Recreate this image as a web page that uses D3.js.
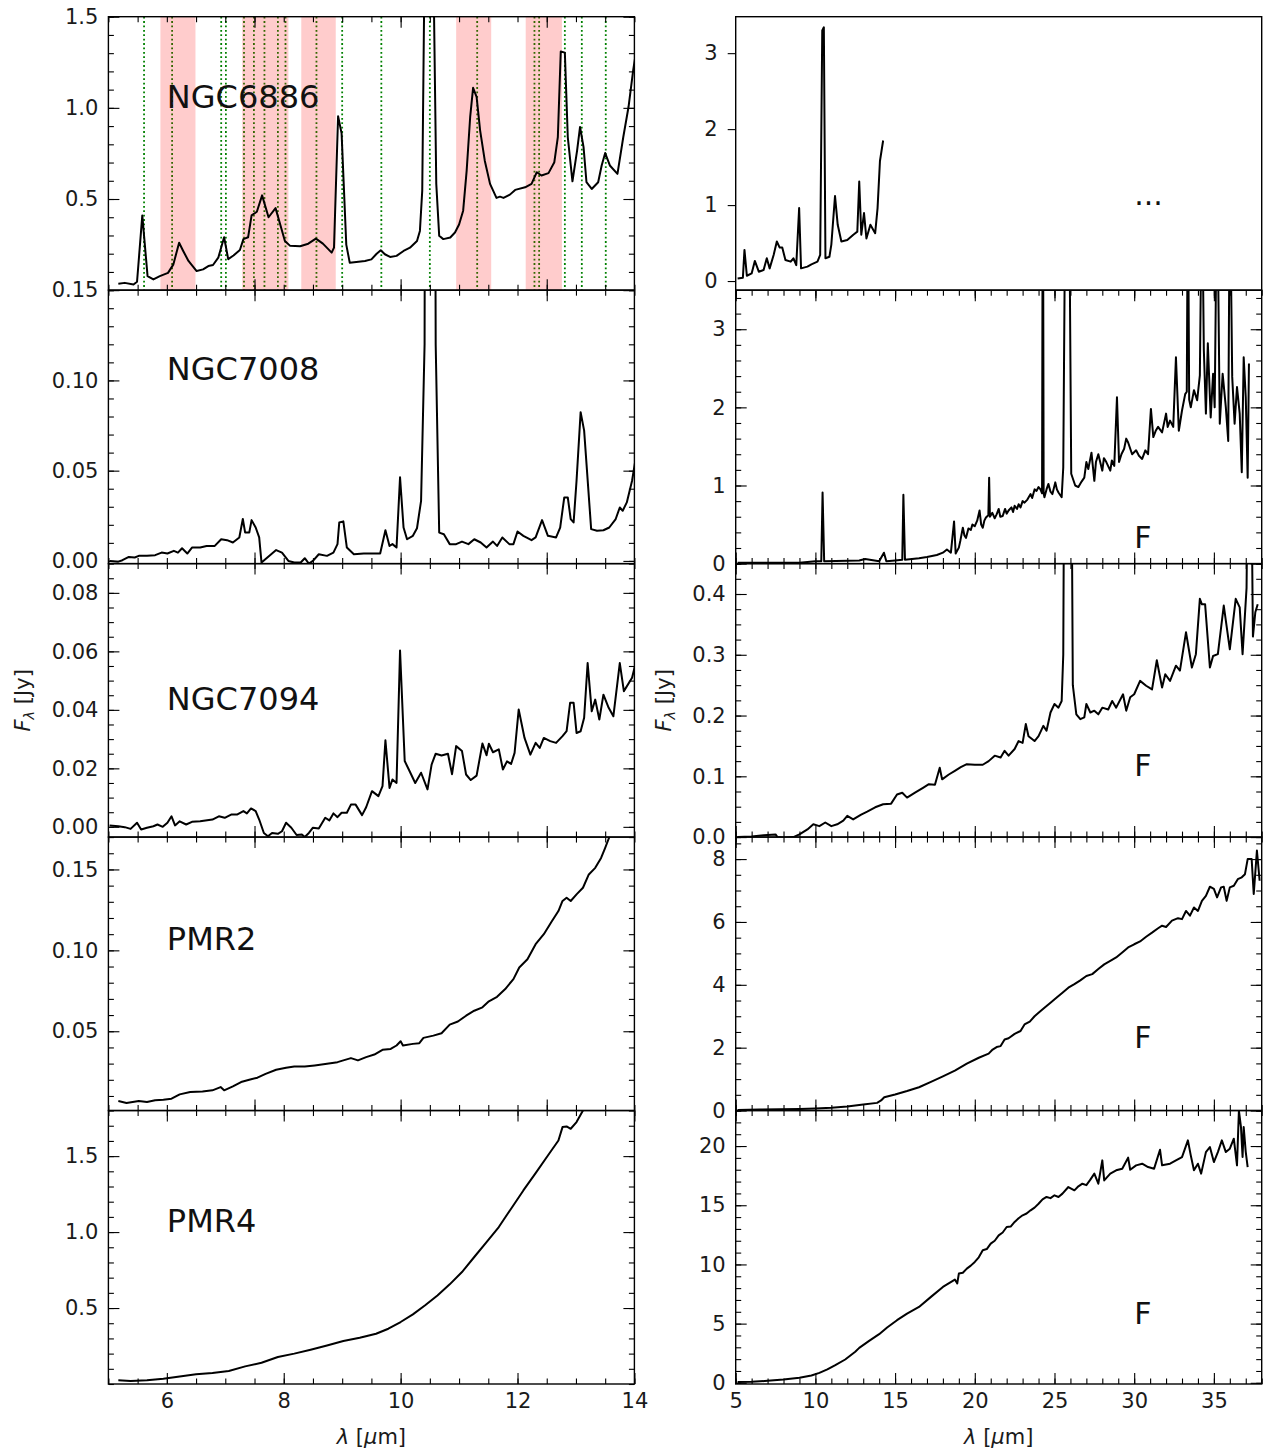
<!DOCTYPE html>
<html>
<head>
<meta charset="utf-8">
<script src="https://cdn.jsdelivr.net/npm/d3@7"></script>
<style>
  body { margin: 0; background: #fff; }
  svg text { font-family: "DejaVu Sans", sans-serif; }
</style>
</head>
<body>
<div id="chart"></div>
<script>
// Spectra: [wavelength (um), flux (Jy)]
const ngc6886_sl = [[5.17,0.035],[5.28,0.040],[5.43,0.031],[5.49,0.046],[5.58,0.41],[5.67,0.077],[5.77,0.059],[5.88,0.077],[6.02,0.095],[6.11,0.14],[6.21,0.26],[6.28,0.215],[6.37,0.16],[6.51,0.105],[6.62,0.114],[6.71,0.132],[6.79,0.138],[6.88,0.178],[6.98,0.29],[7.05,0.17],[7.14,0.19],[7.25,0.22],[7.31,0.28],[7.39,0.29],[7.45,0.41],[7.54,0.43],[7.63,0.52],[7.74,0.40],[7.86,0.45],[7.94,0.36],[8.02,0.27],[8.11,0.243],[8.28,0.241],[8.42,0.255],[8.55,0.283],[8.67,0.255],[8.82,0.206],[8.86,0.233],[8.93,0.954],[8.99,0.86],[9.07,0.25],[9.13,0.15],[9.39,0.16],[9.50,0.169],[9.59,0.2],[9.66,0.219],[9.73,0.197],[9.82,0.182],[9.93,0.188],[10.05,0.215],[10.16,0.233],[10.28,0.27],[10.33,0.325],[10.37,0.546],[10.41,1.8],[10.46,3.3],[10.52,3.34],[10.56,1.8],[10.61,0.583],[10.66,0.298],[10.73,0.28],[10.85,0.289],[10.93,0.316],[11.00,0.36],[11.07,0.436],[11.13,0.656],[11.19,0.95],[11.24,1.11],[11.30,1.06],[11.36,0.877],[11.44,0.71],[11.53,0.583],[11.64,0.506],[11.70,0.513],[11.76,0.506],[11.87,0.524],[11.96,0.55],[12.13,0.564],[12.24,0.583],[12.33,0.647],[12.41,0.629],[12.53,0.642],[12.63,0.702],[12.69,0.84],[12.74,1.309],[12.81,1.303],[12.86,0.84],[12.94,0.597],[13.02,0.767],[13.07,0.895],[13.13,0.785],[13.18,0.592],[13.27,0.555],[13.38,0.592],[13.44,0.684],[13.50,0.752],[13.58,0.684],[13.71,0.638],[13.81,0.84],[13.90,1.006],[13.98,1.208],[14.05,1.35]];

const ngc6886_ll = [[5.12,0.034],[5.45,0.044],[5.55,0.41],[5.70,0.07],[6.0,0.10],[6.2,0.265],[6.45,0.123],[6.75,0.146],[6.95,0.3],[7.13,0.167],[7.38,0.344],[7.58,0.52],[7.76,0.44],[7.92,0.44],[8.12,0.278],[8.45,0.255],[8.62,0.3],[8.80,0.21],[8.98,0.96],[9.10,0.167],[9.5,0.19],[9.75,0.22],[10.13,0.255],[10.30,0.344],[10.43,3.30],[10.53,3.34],[10.63,0.30],[10.88,0.32],[11.0,0.48],[11.23,1.12],[11.40,0.74],[11.63,0.52],[12.0,0.54],[12.38,0.61],[12.63,0.65],[12.75,1.31],[12.88,0.61],[13.05,0.895],[13.20,0.56],[13.45,0.74],[13.75,0.63],[13.9,0.96],[14.05,1.58],[14.25,1.85]];

const ngc7008_sl = [[5.02,0.0],[5.17,-0.0004],[5.24,0.0004],[5.35,0.0022],[5.45,0.0019],[5.52,0.0028],[5.66,0.0028],[5.80,0.0032],[5.91,0.0046],[6.01,0.0041],[6.12,0.0056],[6.19,0.0046],[6.26,0.007],[6.35,0.0041],[6.43,0.0074],[6.57,0.0074],[6.68,0.0083],[6.82,0.0083],[6.93,0.012],[7.03,0.0115],[7.13,0.0102],[7.24,0.013],[7.30,0.0232],[7.34,0.0157],[7.41,0.0157],[7.45,0.0226],[7.52,0.0185],[7.58,0.013],[7.62,-0.0009],[7.73,0.0022],[7.87,0.006],[7.97,0.0046],[8.08,0.0],[8.18,-0.0009],[8.29,-0.0009],[8.36,0.0015],[8.43,-0.0015],[8.50,0.0],[8.60,0.0037],[8.74,0.0028],[8.85,0.0046],[8.92,0.0093],[8.95,0.0213],[9.02,0.0219],[9.08,0.0074],[9.20,0.0037],[9.37,0.0041],[9.65,0.0041],[9.74,0.017],[9.81,0.0083],[9.86,0.0093],[9.93,0.0074],[9.99,0.0463],[10.05,0.0185],[10.11,0.012],[10.21,0.0139],[10.28,0.0181],[10.35,0.0333],[10.41,0.12],[10.43,0.5],[10.5,0.9],[10.57,0.5],[10.60,0.12],[10.66,0.0157],[10.74,0.0148],[10.84,0.0093],[10.95,0.0093],[11.05,0.0107],[11.16,0.0093],[11.26,0.012],[11.37,0.0102],[11.47,0.0074],[11.58,0.0107],[11.65,0.0083],[11.74,0.013],[11.86,0.0093],[11.93,0.0093],[12.00,0.0163],[12.10,0.0139],[12.24,0.0115],[12.31,0.013],[12.42,0.0226],[12.52,0.0139],[12.66,0.013],[12.73,0.0185],[12.80,0.0352],[12.86,0.0352],[12.91,0.0232],[12.96,0.0213],[13.01,0.0444],[13.08,0.0824],[13.14,0.0722],[13.26,0.0176],[13.36,0.0167],[13.47,0.017],[13.57,0.0185],[13.68,0.0232],[13.75,0.0296],[13.80,0.0278],[13.87,0.0324],[13.96,0.0444],[14.03,0.0583]];

const ngc7008_ll = [[5.12,0.01],[6.5,0.01],[9.0,0.01],[10.0,0.03],[10.37,0.03],[10.45,0.91],[10.55,0.03],[12.75,0.04],[13.12,0.06],[14.0,0.03],[14.3,0.14],[14.45,0.03],[15.0,0.04],[15.45,0.05],[15.52,0.88],[15.62,0.05],[16.5,0.07],[17.0,0.086],[17.62,0.11],[18.0,0.14],[18.25,0.18],[18.5,0.14],[18.7,0.54],[18.8,0.13],[19.0,0.205],[19.1,0.3],[19.25,0.46],[19.35,0.36],[19.45,0.33],[19.6,0.45],[19.75,0.43],[19.85,0.5],[20.0,0.48],[20.15,0.55],[20.3,0.68],[20.4,0.5],[20.5,0.46],[20.6,0.55],[20.7,0.59],[20.85,0.62],[20.9,1.1],[20.95,0.6],[21.1,0.65],[21.25,0.58],[21.37,0.63],[21.5,0.7],[21.6,0.6],[21.75,0.61],[21.9,0.7],[22.0,0.64],[22.12,0.68],[22.3,0.72],[22.4,0.66],[22.5,0.74],[22.65,0.7],[22.75,0.76],[22.87,0.72],[23.0,0.8],[23.12,0.78],[23.3,0.82],[23.5,0.89],[23.6,0.84],[23.75,0.95],[23.87,0.93],[24.0,0.98],[24.12,0.95],[24.22,0.9],[24.27,6],[24.32,0.9],[24.37,0.85],[24.5,0.95],[24.62,1.02],[24.75,0.92],[24.87,0.89],[25.05,1.04],[25.15,0.95],[25.25,0.91],[25.45,0.85],[25.55,1.23],[25.65,4],[25.8,10],[25.95,4],[26.05,1.15],[26.3,1.0],[26.5,0.98],[26.7,1.05],[26.87,1.1],[27.0,1.3],[27.12,1.21],[27.32,1.42],[27.5,1.06],[27.6,1.3],[27.75,1.40],[28.0,1.19],[28.1,1.35],[28.25,1.30],[28.5,1.19],[28.6,1.32],[28.75,1.25],[28.92,2.13],[29.05,1.30],[29.2,1.4],[29.37,1.47],[29.5,1.6],[29.62,1.55],[29.87,1.40],[30.12,1.45],[30.3,1.38],[30.5,1.34],[30.7,1.45],[30.87,1.40],[31.05,1.98],[31.2,1.62],[31.35,1.7],[31.5,1.75],[31.75,1.68],[32.0,1.92],[32.1,1.75],[32.25,1.83],[32.45,1.75],[32.62,2.64],[32.8,1.70],[33.0,1.96],[33.2,2.17],[33.3,2.2],[33.37,5],[33.45,2.1],[33.55,2.0],[33.75,2.22],[33.95,2.09],[34.12,2.41],[34.25,5],[34.37,2.73],[34.5,1.92],[34.62,2.82],[34.8,1.87],[34.95,2.43],[35.05,2.0],[35.2,5],[35.37,1.79],[35.55,2.43],[35.75,2.0],[35.9,1.57],[36.0,5],[36.15,2.39],[36.3,1.79],[36.45,2.26],[36.62,1.92],[36.75,1.17],[36.87,2.64],[37.0,2.13],[37.12,1.10],[37.2,2.56]];

const ngc7094_sl = [[5.02,0.0005],[5.17,0.0002],[5.28,-0.0001],[5.38,-0.0007],[5.49,0.0014],[5.56,-0.0009],[5.66,-0.0003],[5.77,0.0002],[5.84,0.0008],[5.93,0.0],[6.01,0.0014],[6.08,0.0036],[6.14,0.0005],[6.22,0.0019],[6.33,0.0008],[6.43,0.0017],[6.57,0.0019],[6.78,0.0025],[6.89,0.0036],[6.99,0.0031],[7.10,0.0042],[7.20,0.0042],[7.31,0.0054],[7.37,0.0046],[7.44,0.0063],[7.52,0.0054],[7.58,0.0025],[7.66,-0.0021],[7.73,-0.0032],[7.80,-0.0021],[7.90,-0.0024],[7.97,-0.0015],[8.04,0.0014],[8.13,-0.0003],[8.22,-0.0028],[8.31,-0.0026],[8.36,-0.0035],[8.43,-0.0021],[8.50,-0.0003],[8.60,-0.0006],[8.71,0.0031],[8.78,0.0022],[8.85,0.0046],[8.92,0.0033],[8.99,0.0048],[9.08,0.0048],[9.15,0.0076],[9.23,0.0076],[9.34,0.004],[9.41,0.0067],[9.51,0.0122],[9.62,0.0105],[9.69,0.0139],[9.74,0.0296],[9.81,0.0133],[9.86,0.0162],[9.93,0.015],[9.99,0.0603],[10.07,0.0225],[10.14,0.0196],[10.25,0.015],[10.35,0.0185],[10.46,0.0128],[10.53,0.0213],[10.60,0.025],[10.70,0.0244],[10.81,0.025],[10.88,0.018],[10.95,0.0276],[11.05,0.0259],[11.12,0.0179],[11.2,0.016],[11.3,0.0175],[11.40,0.0285],[11.47,0.0245],[11.51,0.0284],[11.58,0.0255],[11.68,0.0265],[11.75,0.0196],[11.82,0.0224],[11.89,0.0215],[11.95,0.0253],[12.02,0.0401],[12.12,0.0304],[12.22,0.0247],[12.31,0.0287],[12.38,0.027],[12.45,0.0304],[12.56,0.0293],[12.66,0.0287],[12.77,0.031],[12.84,0.0327],[12.90,0.0424],[12.96,0.0424],[13.01,0.0321],[13.08,0.0327],[13.14,0.0373],[13.20,0.056],[13.27,0.0395],[13.33,0.0435],[13.40,0.0367],[13.47,0.0452],[13.56,0.0407],[13.64,0.0378],[13.75,0.056],[13.82,0.0464],[13.96,0.051],[14.03,0.0566]];

const ngc7094_ll = [[5.12,0.0],[6.0,0.001],[6.75,0.003],[7.5,0.0044],[7.62,0.0],[8.0,-0.001],[8.62,0.0],[9.0,0.0044],[9.5,0.0126],[9.87,0.021],[10.25,0.018],[10.62,0.024],[11.0,0.018],[11.37,0.021],[11.75,0.027],[12.0,0.035],[12.37,0.029],[12.87,0.037],[13.25,0.042],[13.75,0.049],[14.25,0.054],[14.75,0.055],[15.12,0.07],[15.45,0.073],[15.75,0.065],[16.25,0.073],[16.75,0.081],[17.12,0.087],[17.5,0.086],[17.8,0.114],[17.95,0.095],[18.37,0.103],[18.75,0.109],[19.12,0.115],[19.5,0.12],[20.0,0.119],[20.5,0.119],[20.87,0.125],[21.25,0.134],[21.62,0.131],[21.87,0.142],[22.12,0.134],[22.5,0.145],[22.75,0.158],[23.0,0.155],[23.2,0.186],[23.37,0.166],[23.75,0.158],[24.0,0.166],[24.3,0.183],[24.5,0.175],[24.75,0.205],[25.0,0.219],[25.25,0.213],[25.45,0.224],[25.55,0.3],[25.62,0.7],[25.9,1.2],[26.05,0.7],[26.15,0.25],[26.37,0.202],[26.62,0.194],[26.87,0.197],[27.0,0.219],[27.25,0.205],[27.5,0.208],[27.75,0.202],[28.0,0.213],[28.37,0.21],[28.62,0.224],[28.87,0.213],[29.3,0.235],[29.5,0.208],[29.75,0.23],[30.0,0.235],[30.37,0.257],[30.75,0.249],[31.12,0.243],[31.42,0.291],[31.75,0.246],[31.95,0.268],[32.25,0.257],[32.62,0.282],[32.87,0.274],[33.25,0.337],[33.62,0.279],[33.87,0.301],[34.12,0.392],[34.25,0.383],[34.45,0.383],[34.75,0.279],[34.95,0.298],[35.25,0.301],[35.62,0.381],[36.0,0.309],[36.37,0.392],[36.62,0.378],[36.8,0.301],[37.05,0.41],[37.12,0.6],[37.35,0.6],[37.45,0.33],[37.6,0.37],[37.75,0.383]];

const pmr2_sl = [[5.17,0.0069],[5.31,0.0057],[5.52,0.0069],[5.66,0.0063],[5.80,0.0073],[5.94,0.0077],[6.08,0.0083],[6.22,0.011],[6.40,0.0124],[6.61,0.0128],[6.78,0.0135],[6.92,0.0155],[6.98,0.0135],[7.13,0.0159],[7.27,0.0186],[7.41,0.02],[7.55,0.0213],[7.69,0.0237],[7.87,0.0262],[8.04,0.0274],[8.18,0.0282],[8.36,0.0282],[8.53,0.0289],[8.74,0.0299],[8.92,0.0309],[9.02,0.032],[9.15,0.0334],[9.27,0.032],[9.41,0.034],[9.55,0.0356],[9.69,0.0385],[9.83,0.0391],[9.93,0.0412],[10.0,0.0438],[10.04,0.0412],[10.21,0.0422],[10.32,0.0426],[10.39,0.0459],[10.56,0.0473],[10.70,0.0488],[10.84,0.0541],[10.98,0.056],[11.12,0.0596],[11.26,0.0627],[11.40,0.0648],[11.51,0.0685],[11.65,0.0713],[11.79,0.0761],[11.93,0.0822],[12.03,0.0894],[12.17,0.0945],[12.31,0.1038],[12.45,0.11],[12.59,0.1181],[12.70,0.1243],[12.77,0.1305],[12.84,0.1325],[12.91,0.1305],[13.01,0.1346],[13.12,0.1387],[13.22,0.1469],[13.33,0.151],[13.43,0.1571],[13.50,0.1633],[13.57,0.1699],[13.65,0.176]];

const pmr2_ll = [[5.12,0.02],[6.5,0.03],[7.75,0.04],[9.0,0.05],[10.0,0.064],[11.0,0.085],[12.0,0.13],[13.0,0.19],[13.87,0.244],[14.12,0.32],[14.32,0.425],[15.0,0.51],[15.75,0.62],[16.5,0.74],[17.25,0.91],[18.0,1.09],[18.75,1.27],[19.5,1.49],[20.25,1.68],[20.87,1.81],[21.12,1.94],[21.37,2.02],[21.62,2.05],[21.87,2.26],[22.12,2.30],[22.5,2.44],[22.87,2.53],[23.12,2.74],[23.45,2.83],[23.75,3.0],[24.0,3.11],[24.37,3.27],[24.75,3.43],[25.12,3.59],[25.5,3.75],[25.87,3.91],[26.25,4.02],[26.62,4.14],[27.0,4.28],[27.37,4.34],[27.75,4.50],[28.12,4.65],[28.5,4.76],[28.87,4.87],[29.25,5.03],[29.62,5.19],[30.0,5.29],[30.37,5.38],[30.75,5.53],[31.12,5.66],[31.5,5.80],[31.75,5.88],[32.0,5.84],[32.37,6.04],[32.75,6.12],[33.0,6.09],[33.25,6.35],[33.5,6.20],[33.75,6.46],[34.0,6.35],[34.25,6.67],[34.5,6.83],[34.75,7.12],[35.0,7.05],[35.2,6.78],[35.45,7.10],[35.62,7.12],[35.8,6.67],[36.0,7.10],[36.25,7.15],[36.5,7.36],[36.75,7.42],[36.95,7.52],[37.12,8.0],[37.37,8.0],[37.5,6.89],[37.7,8.27],[37.87,7.31]];

const pmr4_sl = [[5.17,0.024],[5.38,0.02],[5.66,0.024],[5.94,0.035],[6.22,0.05],[6.50,0.064],[6.78,0.072],[7.06,0.086],[7.34,0.116],[7.62,0.14],[7.90,0.178],[8.18,0.20],[8.46,0.226],[8.74,0.254],[9.02,0.283],[9.30,0.305],[9.58,0.331],[9.79,0.364],[10.0,0.408],[10.21,0.458],[10.42,0.518],[10.63,0.583],[10.84,0.656],[11.05,0.737],[11.26,0.836],[11.47,0.934],[11.68,1.033],[11.89,1.154],[12.10,1.274],[12.31,1.388],[12.52,1.504],[12.70,1.603],[12.77,1.691],[12.84,1.695],[12.91,1.68],[13.01,1.724],[13.12,1.80],[13.2,1.85]];

const pmr4_ll = [[5.12,0.06],[6.0,0.08],[7.0,0.17],[8.0,0.28],[9.0,0.42],[9.75,0.62],[10.25,0.84],[10.75,1.13],[11.25,1.49],[11.87,1.97],[12.5,2.62],[12.75,2.95],[13.37,3.54],[14.0,4.11],[14.5,4.67],[15.12,5.29],[15.75,5.85],[16.5,6.41],[17.25,7.26],[18.0,8.1],[18.75,8.72],[18.9,8.4],[19.0,9.23],[19.25,9.3],[19.5,9.65],[19.75,9.9],[20.0,10.21],[20.25,10.6],[20.5,11.2],[20.75,11.3],[21.0,11.76],[21.25,12.0],[21.5,12.46],[21.75,12.7],[22.0,13.16],[22.25,13.2],[22.5,13.59],[22.75,13.9],[23.0,14.15],[23.25,14.3],[23.5,14.57],[23.75,14.8],[24.0,15.13],[24.25,15.5],[24.5,15.7],[24.75,15.6],[25.0,15.84],[25.25,15.7],[25.5,15.98],[25.87,16.54],[26.25,16.26],[26.5,16.6],[26.75,16.82],[27.0,16.7],[27.25,17.16],[27.5,17.67],[27.75,16.82],[28.0,18.79],[28.12,17.1],[28.5,17.67],[28.87,17.95],[29.25,18.09],[29.62,19.02],[29.75,18.0],[30.12,18.37],[30.5,18.51],[30.87,18.23],[31.25,18.09],[31.62,19.69],[31.75,18.37],[32.25,18.51],[32.62,18.79],[33.0,19.07],[33.37,20.48],[33.55,19.21],[33.75,17.95],[34.0,18.51],[34.2,17.67],[34.5,19.49],[34.75,19.92],[35.0,18.65],[35.25,19.49],[35.5,20.48],[35.75,19.49],[36.0,19.78],[36.25,20.62],[36.45,18.37],[36.57,23.0],[36.7,21.6],[36.8,19.07],[36.87,21.6],[37.0,19.49],[37.12,18.23]];

// Emission-line markers and PAH bands in the NGC6886 panel
const lineWaves = [5.61, 6.09, 6.93, 7.01, 7.32, 7.49, 7.67, 7.9, 8.03, 8.56, 9.0, 9.67, 10.5, 11.31, 12.29, 12.37, 12.81, 13.1, 13.51];
const pahBands = [[5.89, 6.49], [7.29, 8.08], [8.3, 8.89], [10.95, 11.55], [12.14, 12.76]];

const names = ["NGC6886", "NGC7008", "NGC7094", "PMR2", "PMR4"];
const nameY = [1.0, 0.1, 0.04, 0.1, 1.0];
const fLabelY = [null, 0.2, 0.1, 2, 5];

const leftYDomains = [[0, 1.5], [-0.0015, 0.15], [-0.0035, 0.09], [0.001, 0.17], [0, 1.8]];
const leftYTicks = [[0.5, 1.0, 1.5], [0, 0.05, 0.10, 0.15], [0, 0.02, 0.04, 0.06, 0.08], [0.05, 0.10, 0.15], [0.5, 1.0, 1.5]];
const leftYMinor = [0.1, 0.01, 0.005, 0.01, 0.1];
const leftYFmt = [".1f", ".2f", ".2f", ".2f", ".1f"];

const rightYDomains = [[-0.12, 3.48], [0, 3.5], [0, 0.45], [0, 8.7], [-0.1, 23]];
const rightYTicks = [[0, 1, 2, 3], [0, 1, 2, 3], [0, 0.1, 0.2, 0.3, 0.4], [0, 2, 4, 6, 8], [0, 5, 10, 15, 20]];
const rightYMinor = [null, 0.2, 0.025, 0.5, 1];
const rightYFmt = ["d", "d", ".1f", "d", "d"];

const leftXTicks = [7.5, 10, 12.5];
const leftXTicksBottom = [6, 8, 10, 12, 14];
const rightXTicks = [5, 10, 15, 20, 25, 30, 35];

const leftSpectra = [ngc6886_sl, ngc7008_sl, ngc7094_sl, pmr2_sl, pmr4_sl];
const rightSpectra = [ngc6886_ll, ngc7008_ll, ngc7094_ll, pmr2_ll, pmr4_ll];

// Layout
const width = 1264, height = 1454;
const colLeft = [108.4, 735.7];
const colWidth = 526;
const top0 = 16.7;
const rowHeight = 273.46;
const tickFont = 21;
const majorLen = 11, minorLen = 5.5;

function steps(lo, hi, step) {
    const n = Math.floor((hi - lo) / step + 1e-6);
    return d3.range(0, n + 1).map(i => +(lo + i * step).toFixed(6));
}
function minorFor(domain, step) {
    const start = Math.ceil(domain[0] / step - 1e-6) * step;
    return steps(start, domain[1], step);
}

const svg = d3.select('#chart').append('svg')
    .attr('width', width).attr('height', height)
    .style('background', '#fff');

function styleAxis(g) {
    g.select('.domain').remove();
    g.attr('font-family', '"DejaVu Sans", sans-serif').attr('font-size', tickFont);
    g.selectAll('.tick line').attr('stroke', '#000').attr('stroke-width', 1.1);
    g.selectAll('.tick text').attr('fill', '#1a1a1a');
}

function drawPanel(col, row) {
    const x0 = colLeft[col];
    const y0 = top0 + row * rowHeight;
    const w = colWidth, h = rowHeight;
    const isLeft = col === 0;
    const data = isLeft ? leftSpectra[row] : rightSpectra[row];
    const yDom = isLeft ? leftYDomains[row] : rightYDomains[row];

    const x = d3.scaleLinear().domain(isLeft ? [5, 14] : [5, 38]).range([0, w]);
    const y = d3.scaleLinear().domain(yDom).range([h, 0]);

    const g = svg.append('g').attr('transform', `translate(${x0},${y0})`);
    const clipId = `clip-${col}-${row}`;
    g.append('clipPath').attr('id', clipId).append('rect').attr('width', w).attr('height', h);
    const plot = g.append('g').attr('clip-path', `url(#${clipId})`);

    if (isLeft && row === 0) {
        plot.append('g').selectAll('line').data(lineWaves).join('line')
            .attr('x1', d => x(d)).attr('x2', d => x(d))
            .attr('y1', 0).attr('y2', h)
            .attr('stroke', 'green').attr('stroke-width', 1.8)
            .attr('stroke-dasharray', '1.8,2.6');
        plot.append('g').selectAll('rect').data(pahBands).join('rect')
            .attr('x', d => x(d[0])).attr('width', d => x(d[1]) - x(d[0]))
            .attr('y', 0).attr('height', h)
            .attr('fill', 'red').attr('fill-opacity', 0.2);
    }

    const line = d3.line().x(d => x(d[0])).y(d => y(d[1]));
    plot.append('path').datum(data)
        .attr('d', line)
        .attr('fill', 'none').attr('stroke', '#000')
        .attr('stroke-width', 2).attr('stroke-linejoin', 'round');

    // ticks
    const outward = !isLeft && row === 0;
    const yMaj = isLeft ? leftYTicks[row] : rightYTicks[row];
    const yMinStep = isLeft ? leftYMinor[row] : rightYMinor[row];
    const yFmt = d3.format(isLeft ? leftYFmt[row] : rightYFmt[row]);

    if (outward) {
        g.append('g').call(d3.axisLeft(y).tickValues(yMaj).tickSize(8).tickPadding(10).tickFormat(yFmt)).call(styleAxis);
        g.append('g').attr('transform', `translate(0,${h})`)
            .call(d3.axisBottom(x).tickValues(rightXTicks).tickSize(8).tickFormat('')).call(styleAxis);
    } else {
        g.append('g').call(d3.axisLeft(y).tickValues(yMaj).tickSize(-majorLen).tickPadding(10).tickFormat(yFmt)).call(styleAxis);
        g.append('g').attr('transform', `translate(${w},0)`)
            .call(d3.axisRight(y).tickValues(yMaj).tickSize(-majorLen).tickFormat('')).call(styleAxis);
        const yMin = minorFor(yDom, yMinStep);
        g.append('g').call(d3.axisLeft(y).tickValues(yMin).tickSize(-minorLen).tickFormat('')).call(styleAxis);
        g.append('g').attr('transform', `translate(${w},0)`)
            .call(d3.axisRight(y).tickValues(yMin).tickSize(-minorLen).tickFormat('')).call(styleAxis);

        const isBottom = row === 4;
        const xMaj = isLeft ? (isBottom ? leftXTicksBottom : leftXTicks) : rightXTicks;
        const xMin = isLeft ? steps(5, 14, 0.5) : steps(5, 38, 1);
        g.append('g').attr('transform', `translate(0,${h})`)
            .call(d3.axisBottom(x).tickValues(xMaj).tickSize(-majorLen).tickPadding(9)
                .tickFormat(isBottom ? d3.format('d') : '')).call(styleAxis);
        g.append('g').call(d3.axisTop(x).tickValues(xMaj).tickSize(-majorLen).tickFormat('')).call(styleAxis);
        g.append('g').attr('transform', `translate(0,${h})`)
            .call(d3.axisBottom(x).tickValues(xMin).tickSize(-minorLen).tickFormat('')).call(styleAxis);
        g.append('g').call(d3.axisTop(x).tickValues(xMin).tickSize(-minorLen).tickFormat('')).call(styleAxis);
    }

    // frame
    g.append('rect').attr('width', w).attr('height', h)
        .attr('fill', 'none').attr('stroke', '#000').attr('stroke-width', 1.4);

    // annotations
    if (isLeft) {
        g.append('text').attr('x', x(6)).attr('y', y(nameY[row]))
            .attr('font-size', 32).attr('fill', '#111').text(names[row]);
    } else if (row === 0) {
        g.append('text').attr('x', x(30)).attr('y', y(1.0))
            .attr('font-size', 30).attr('fill', '#111').text('...');
    } else {
        g.append('text').attr('x', x(30)).attr('y', y(fLabelY[row]))
            .attr('font-size', 30).attr('fill', '#111').text('F');
    }
}

for (let c = 0; c < 2; c++) {
    for (let r = 0; r < 5; r++) drawPanel(c, r);
}

// axis labels
const midY = top0 + 2.5 * rowHeight;
[29.5, 671].forEach(px => {
    const t = svg.append('text')
        .attr('transform', `translate(${px},${midY}) rotate(-90)`)
        .attr('text-anchor', 'middle').attr('font-size', tickFont).attr('fill', '#1a1a1a');
    t.append('tspan').attr('font-style', 'italic').text('F');
    t.append('tspan').attr('font-style', 'italic').attr('font-size', 14.5).attr('dy', 4).text('λ');
    t.append('tspan').attr('dy', -4).text(' [Jy]');
});
colLeft.forEach(x0 => {
    const t = svg.append('text')
        .attr('x', x0 + colWidth / 2).attr('y', 1444)
        .attr('text-anchor', 'middle').attr('font-size', tickFont).attr('fill', '#1a1a1a');
    t.append('tspan').attr('font-style', 'italic').text('λ');
    t.append('tspan').text(' [');
    t.append('tspan').attr('font-style', 'italic').text('μ');
    t.append('tspan').text('m]');
});
</script>
</body>
</html>
